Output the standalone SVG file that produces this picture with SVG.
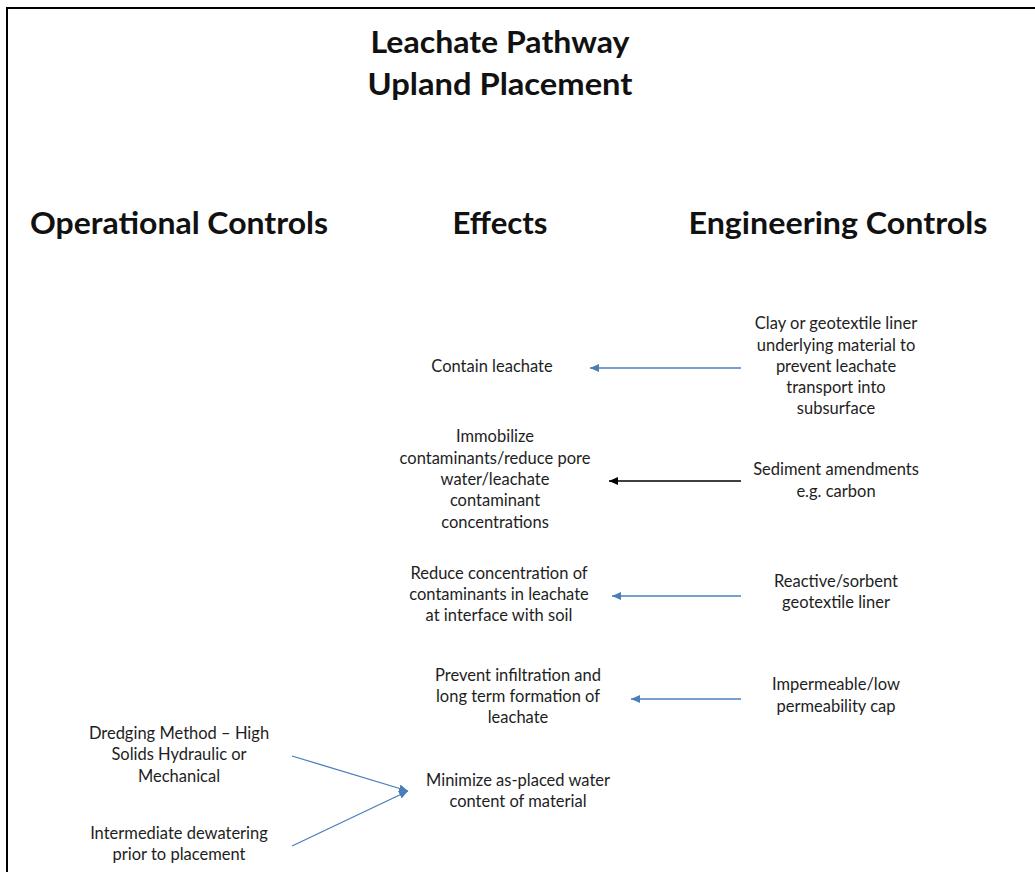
<svg xmlns="http://www.w3.org/2000/svg" width="1035" height="872" viewBox="0 0 1035 872">
<style>
text{font-family:Lato,"Open Sans","Liberation Sans",sans-serif;fill:#1e1e1e;text-anchor:middle}
.h{font-weight:bold;font-size:30px;fill:#111}
.b{font-size:16.5px}
.blue{stroke:#4A7EBB;stroke-width:1.3;fill:none}
.black{stroke:#000;stroke-width:1.3;fill:none}
</style>
<defs>
<marker id="ab" markerUnits="userSpaceOnUse" markerWidth="11" markerHeight="9" refX="9" refY="4" orient="auto"><path d="M0,0 L9,4 L0,8 z" fill="#4A7EBB"/></marker>
<marker id="ak" markerUnits="userSpaceOnUse" markerWidth="11" markerHeight="9" refX="9" refY="4" orient="auto"><path d="M0,0 L9,4 L0,8 z" fill="#000"/></marker>
</defs>
<rect width="1035" height="872" fill="#fff"/>
<path d="M7,880 V8 H1035" fill="none" stroke="#000" stroke-width="2"/>
<g id="title">
<text class="h" x="500" y="53" textLength="259" lengthAdjust="spacingAndGlyphs">Leachate Pathway</text>
<text class="h" x="500" y="95" textLength="265" lengthAdjust="spacingAndGlyphs">Upland Placement</text>
</g>
<g id="headers">
<text class="h" x="179" y="234" textLength="298" lengthAdjust="spacingAndGlyphs">Operational Controls</text>
<text class="h" x="500" y="234" textLength="95" lengthAdjust="spacingAndGlyphs">Effects</text>
<text class="h" x="838" y="234" textLength="299" lengthAdjust="spacingAndGlyphs">Engineering Controls</text>
</g>
<g id="n-contain"><text class="b" x="492" y="372">Contain leachate</text></g>
<g id="n-clay"><text class="b"><tspan x="836" y="329">Clay or geotextile liner</tspan><tspan x="836" y="351">underlying material to</tspan><tspan x="836" y="372">prevent leachate</tspan><tspan x="836" y="393">transport into</tspan><tspan x="836" y="414">subsurface</tspan></text></g>
<g id="n-immobilize"><text class="b"><tspan x="495" y="442">Immobilize</tspan><tspan x="495" y="464">contaminants/reduce pore</tspan><tspan x="495" y="485">water/leachate</tspan><tspan x="495" y="506">contaminant</tspan><tspan x="495" y="528">concentrations</tspan></text></g>
<g id="n-sediment"><text class="b"><tspan x="836" y="475">Sediment amendments</tspan><tspan x="836" y="497">e.g. carbon</tspan></text></g>
<g id="n-reduce"><text class="b"><tspan x="499" y="579">Reduce concentration of</tspan><tspan x="499" y="600">contaminants in leachate</tspan><tspan x="499" y="621">at interface with soil</tspan></text></g>
<g id="n-reactive"><text class="b"><tspan x="836" y="587">Reactive/sorbent</tspan><tspan x="836" y="608">geotextile liner</tspan></text></g>
<g id="n-prevent"><text class="b"><tspan x="518" y="681">Prevent infiltration and</tspan><tspan x="518" y="702">long term formation of</tspan><tspan x="518" y="723">leachate</tspan></text></g>
<g id="n-cap"><text class="b"><tspan x="836" y="690">Impermeable/low</tspan><tspan x="836" y="712">permeability cap</tspan></text></g>
<g id="n-dredging"><text class="b"><tspan x="179" y="739">Dredging Method – High</tspan><tspan x="179" y="760">Solids Hydraulic or</tspan><tspan x="179" y="782">Mechanical</tspan></text></g>
<g id="n-minimize"><text class="b"><tspan x="518" y="786">Minimize as-placed water</tspan><tspan x="518" y="807">content of material</tspan></text></g>
<g id="n-dewatering"><text class="b"><tspan x="179" y="839">Intermediate dewatering</tspan><tspan x="179" y="860">prior to placement</tspan></text></g>
<g id="connectors">
<line class="blue" x1="741" y1="368" x2="590" y2="368" marker-end="url(#ab)"/>
<line class="black" x1="741" y1="481" x2="609" y2="481" marker-end="url(#ak)"/>
<line class="blue" x1="741" y1="596" x2="612" y2="596" marker-end="url(#ab)"/>
<line class="blue" x1="741" y1="699" x2="631" y2="699" marker-end="url(#ab)"/>
<line class="blue" x1="292" y1="756" x2="408" y2="791" marker-end="url(#ab)"/>
<line class="blue" x1="292" y1="846" x2="408" y2="791" marker-end="url(#ab)"/>
</g>
</svg>
